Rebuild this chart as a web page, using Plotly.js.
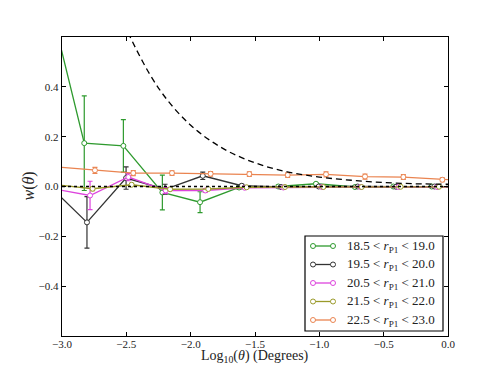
<!DOCTYPE html>
<html>
<head>
<meta charset="utf-8">
<script src="https://cdn.plot.ly/plotly-3.0.1.min.js"></script>
<style>
  html, body { margin: 0; padding: 0; background: #fff; }
  #plot { width: 498px; height: 366px; }
</style>
</head>
<body>
<div id="plot"></div>
<script>
// bins of r_P1 magnitude
const binLabels = [
  "18.5 < <i>r</i><sub>P1</sub> < 19.0",
  "19.5 < <i>r</i><sub>P1</sub> < 20.0",
  "20.5 < <i>r</i><sub>P1</sub> < 21.0",
  "21.5 < <i>r</i><sub>P1</sub> < 22.0",
  "22.5 < <i>r</i><sub>P1</sub> < 23.0"
];
const binColors = ["#2e9a2e", "#333333", "#dd44dd", "#9a9a2a", "#ea8450"];

// log10(theta) per bin (small offsets between bins)
const x1 = [-3.127, -2.827, -2.523, -2.22, -1.927, -1.624, -1.319, -1.026, -0.723, -0.425, -0.127, 0.173];
const x2 = [-3.106, -2.806, -2.502, -2.199, -1.906, -1.603, -1.298, -1.005, -0.702, -0.404, -0.106, 0.194];
const x3 = [-3.082, -2.782, -2.484, -2.194, -1.886, -1.58, -1.28, -0.98, -0.68, -0.385, -0.085, 0.215];
const x4 = [-3.062, -2.762, -2.459, -2.16, -1.863, -1.565, -1.267, -0.969, -0.671, -0.368, -0.07, 0.23];
const x5 = [-3.044, -2.744, -2.446, -2.145, -1.845, -1.544, -1.246, -0.948, -0.645, -0.347, -0.044, 0.256];

// w(theta)
const w1 = [0.806, 0.174, 0.163, -0.024, -0.063, -0.004, 0.0, 0.011, -0.002, 0.0, 0.0, 0.0];
const w2 = [0.006, -0.144, 0.034, -0.011, 0.043, 0.003, -0.002, 0.0, 0.0, -0.001, 0.0, 0.0];
const w3 = [-0.008, -0.036, 0.038, -0.016, -0.016, -0.005, -0.004, -0.002, -0.002, -0.002, -0.002, -0.002];
const w4 = [0.008, -0.009, 0.007, -0.011, -0.01, -0.003, -0.002, -0.002, -0.002, -0.001, -0.001, -0.001];
const w5 = [0.079, 0.065, 0.054, 0.054, 0.051, 0.050, 0.046, 0.049, 0.040, 0.038, 0.027, 0.02];

// errors
const e1 = [0.2, 0.19, 0.105, 0.07, 0.042, 0.008, 0.006, 0.005, 0.004, 0.003, 0.003, 0.003];
const e2 = [0.15, 0.103, 0.045, 0.02, 0.015, 0.006, 0.004, 0.003, 0.002, 0.002, 0.002, 0.002];
const e3 = [0.1, 0.057, 0.015, 0.012, 0.008, 0.006, 0.004, 0.003, 0.003, 0.002, 0.002, 0.002];
const e4 = [0.01, 0.008, 0.006, 0.005, 0.004, 0.003, 0.002, 0.002, 0.002, 0.002, 0.002, 0.002];
const e5 = [0.012, 0.012, 0.01, 0.009, 0.009, 0.009, 0.009, 0.01, 0.01, 0.01, 0.008, 0.008];

// model curve (dashed)
const modelX = [-2.6, -2.5, -2.25, -2.0, -1.75, -1.5, -1.25, -1.0, -0.75, -0.5, -0.25, 0.0];
const modelW = [0.766, 0.633, 0.395, 0.246, 0.153, 0.095, 0.059, 0.038, 0.025, 0.016, 0.011, 0.009];

// zero reference (dotted)
const zeroX = [-3.0, 0.0];
const zeroW = [0.0, 0.0];

const xs = [x1, x2, x3, x4, x5];
const ws = [w1, w2, w3, w4, w5];
const es = [e1, e2, e3, e4, e5];

const serif = "'Liberation Serif', 'DejaVu Serif', serif";

// plot box in pixels, used to place the hand-made legend
const L = 62, R = 448, T = 37, B = 336;
const px = v => (v - L) / (R - L);
const py = v => (B - v) / (B - T);

const traces = [];
for (let i = 0; i < 5; i++) {
  traces.push({
    x: xs[i],
    y: ws[i],
    name: binLabels[i],
    type: "scatter",
    mode: "lines+markers",
    line: { color: binColors[i], width: 1.3 },
    marker: { symbol: "circle", size: 5, color: "#fff", line: { color: binColors[i], width: 1 } },
    error_y: { type: "data", array: es[i], visible: true, color: binColors[i], thickness: 1.2, width: 2.5 },
    showlegend: false
  });
}
traces.push({
  x: zeroX, y: zeroW, type: "scatter", mode: "lines",
  line: { color: "#000", width: 1.5, dash: "dot" }, showlegend: false, hoverinfo: "skip"
});
traces.push({
  x: modelX, y: modelW, type: "scatter", mode: "lines",
  line: { color: "#000", width: 1.3, dash: "6px,4px", shape: "spline" },
  showlegend: false, hoverinfo: "skip"
});

// legend: box, line samples with a circle at each end, labels
const shapes = [{
  type: "rect", xref: "paper", yref: "paper",
  x0: px(305), x1: px(443), y0: py(331), y1: py(236),
  fillcolor: "#fff", line: { color: "#000", width: 1.2 }, layer: "above"
}];
const annotations = [];
const rowY = [246, 264.5, 283, 301.5, 320];
for (let i = 0; i < 5; i++) {
  shapes.push({
    type: "line", xref: "paper", yref: "paper",
    x0: px(313), x1: px(333), y0: py(rowY[i]), y1: py(rowY[i]),
    line: { color: binColors[i], width: 1.3 }, layer: "above"
  });
  [313, 333].forEach(cx => {
    shapes.push({
      type: "circle", xref: "paper", yref: "paper",
      xsizemode: "pixel", ysizemode: "pixel",
      xanchor: px(cx), yanchor: py(rowY[i]),
      x0: -2.5, x1: 2.5, y0: -2.5, y1: 2.5,
      fillcolor: "#fff", line: { color: binColors[i], width: 1 }, layer: "above"
    });
  });
  annotations.push({
    xref: "paper", yref: "paper", x: px(345), y: py(rowY[i]),
    xanchor: "left", yanchor: "middle", showarrow: false,
    text: binLabels[i], font: { family: serif, size: 13, color: "#222" }
  });
}
// axis titles
annotations.push({
  xref: "paper", yref: "paper", x: 0.5, y: 0, xanchor: "center", yanchor: "top",
  yshift: -10, showarrow: false,
  text: "Log<sub>10</sub>(<i>θ</i>) (Degrees)", font: { family: serif, size: 14, color: "#222" }
});
annotations.push({
  xref: "paper", yref: "paper", x: 0, y: 0.5, xanchor: "center", yanchor: "middle",
  xshift: -34, textangle: -90, showarrow: false,
  text: "<i>w</i>(<i>θ</i>)", font: { family: serif, size: 16, color: "#222" }
});

const axisStyle = {
  showline: true, mirror: "ticks", linecolor: "#000", linewidth: 1.3,
  ticks: "inside", ticklen: 4, tickcolor: "#000", tickwidth: 1,
  showgrid: false, zeroline: false, automargin: false,
  tickfont: { family: serif, size: 11, color: "#222" }
};

const layout = {
  width: 498, height: 366,
  margin: { l: L, r: 498 - R, t: T, b: 366 - B },
  paper_bgcolor: "#fff", plot_bgcolor: "#fff",
  showlegend: false,
  xaxis: Object.assign({}, axisStyle, {
    range: [-3, 0], tickvals: [-3, -2.5, -2, -1.5, -1, -0.5, 0], tickformat: ".1f",
    ticklabelstandoff: -3
  }),
  yaxis: Object.assign({}, axisStyle, {
    range: [-0.6, 0.6], tickvals: [-0.4, -0.2, 0, 0.2, 0.4], tickformat: ".1f"
  }),
  shapes: shapes,
  annotations: annotations
};

Plotly.newPlot("plot", traces, layout, { displayModeBar: false, staticPlot: true });
</script>
</body>
</html>
